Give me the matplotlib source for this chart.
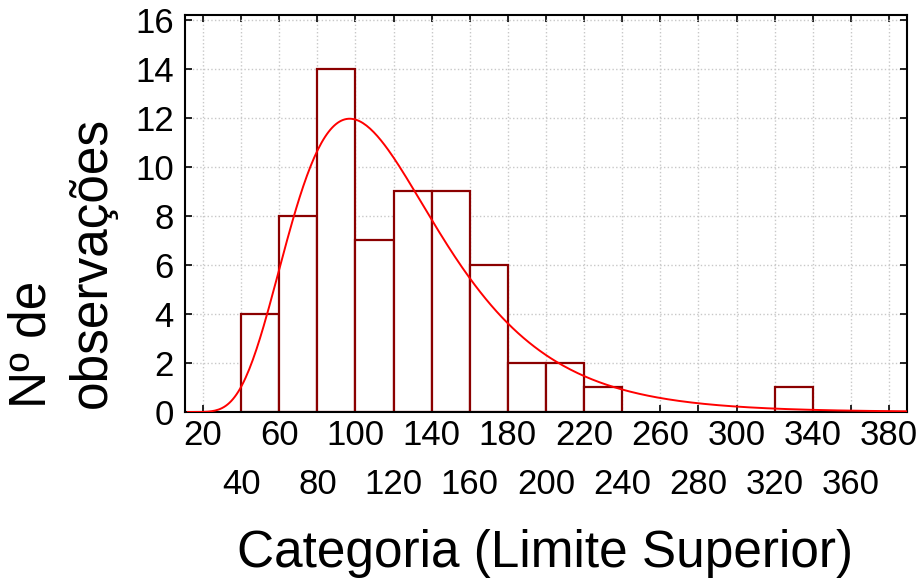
import numpy as np
import matplotlib.pyplot as plt

plt.rcParams['font.family'] = ['Liberation Sans', 'DejaVu Sans']

# histogram (upper limits of categories, width 20)
bin_left = [40, 60, 80, 100, 120, 140, 160, 180, 200, 220, 320]
counts = [4, 8, 14, 7, 9, 9, 6, 2, 2, 1, 1]
bin_width = 20

# fitted log-normal curve (parameters)
fit_mu = 4.734
fit_sigma = 0.40
n_obs = sum(counts)

x_major = list(range(20, 381, 40))
x_minor = list(range(40, 361, 40))
y_ticks = list(range(0, 17, 2))

fig = plt.figure(figsize=(9.2, 5.79), dpi=100)
ax = fig.add_axes([185/920, 1 - 412/579, 722/920, 397/579])

ax.bar(bin_left, counts, width=bin_width, align='edge', facecolor='white',
       edgecolor='#8b0000', linewidth=1.6, zorder=2)

xs = np.linspace(12, 390, 400)
pdf = np.exp(-(np.log(xs) - fit_mu) ** 2 / (2 * fit_sigma ** 2)) / (xs * fit_sigma * np.sqrt(2 * np.pi))
ax.plot(xs, pdf * n_obs * bin_width, color='red', lw=1.4, zorder=3)

ax.set_xlim(10.5, 389.5)
ax.set_ylim(0, 16.2)

ax.set_xticks(x_major)
ax.set_xticks(x_minor, minor=True)
ax.set_xticklabels([str(v) for v in x_major])
ax.set_xticklabels([str(v) for v in x_minor], minor=True)
ax.set_yticks(y_ticks)

ax.tick_params(axis='both', which='both', direction='in', length=5, width=1.2,
               top=True, right=True, labelsize=25)
ax.tick_params(axis='x', which='major', pad=5)
ax.tick_params(axis='x', which='minor', pad=40)
ax.tick_params(axis='y', pad=8)

ax.grid(True, which='both', linestyle=':', color='#c8c8c8', linewidth=1, zorder=0)
ax.set_axisbelow(True)
for s in ax.spines.values():
    s.set_linewidth(1.5)

fig.text(545/920, 1 - 553/579, 'Categoria (Limite Superior)', fontsize=37,
         ha='center', va='center')
fig.text(62/920, 1 - 262/579, 'Nº de\nobservações', fontsize=37, rotation=90,
         ha='center', va='center', multialignment='left', linespacing=1.3)

fig.savefig('out.png', dpi=100)
